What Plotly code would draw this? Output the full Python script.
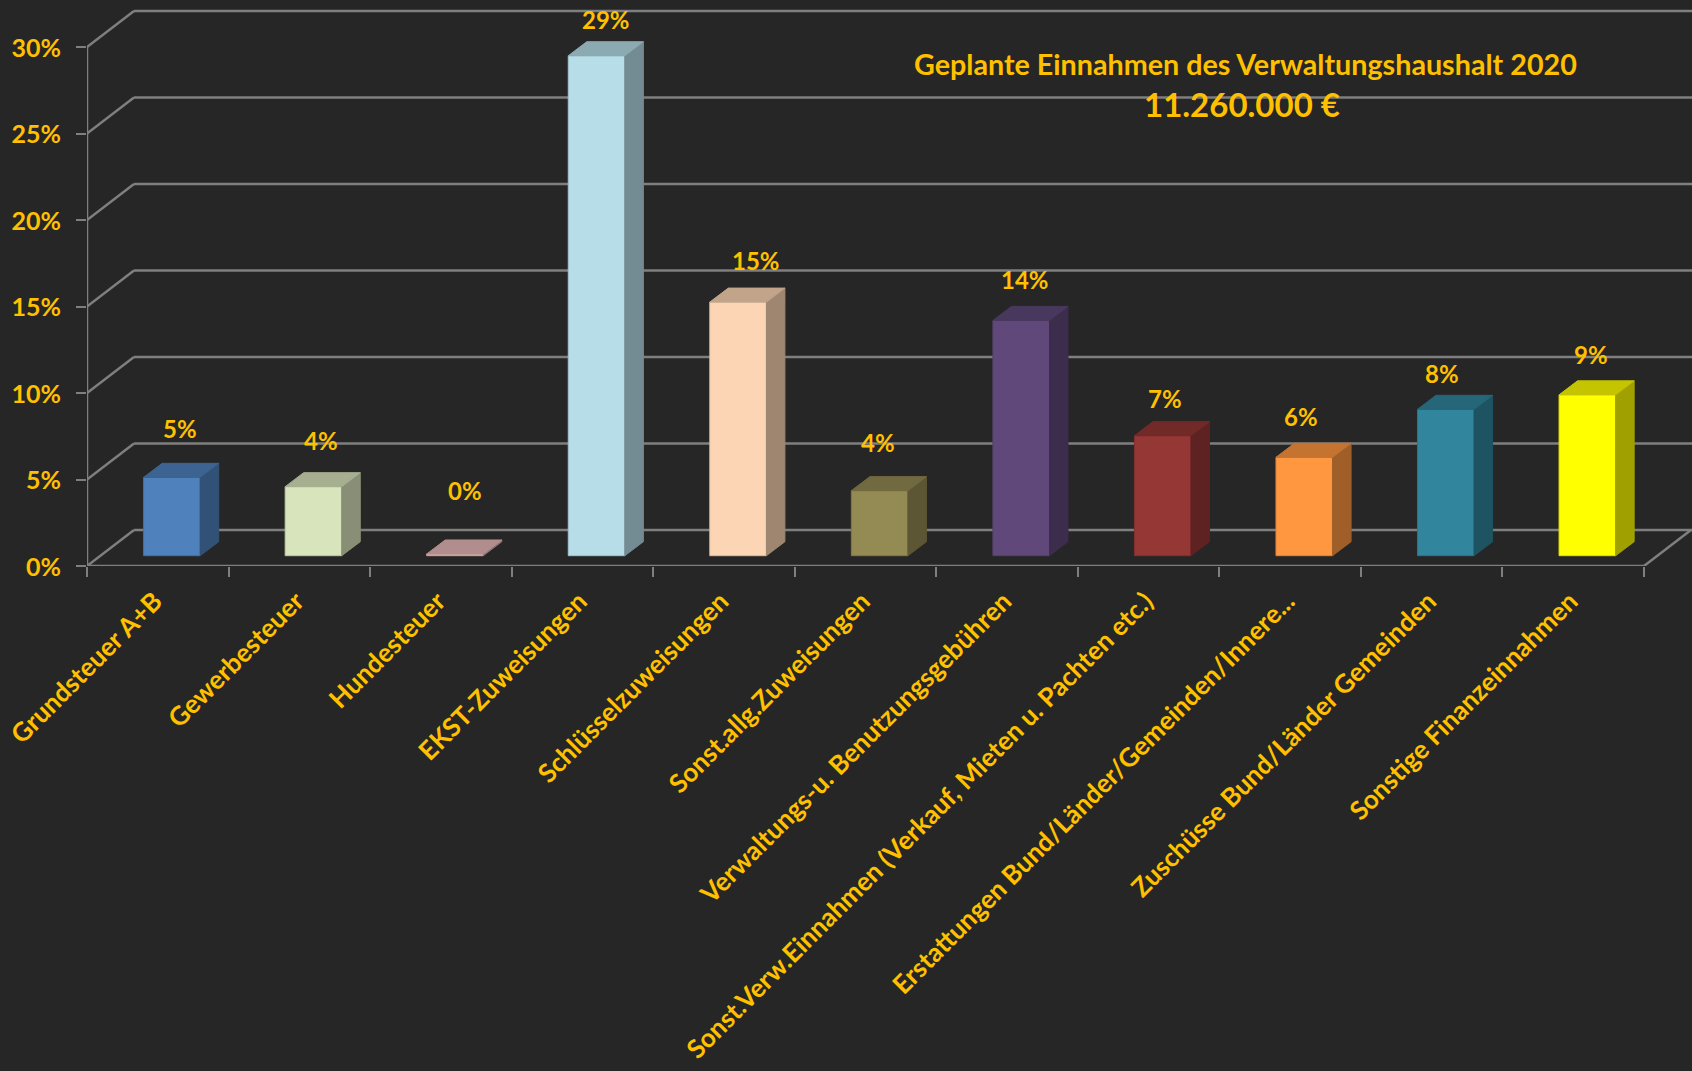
import plotly.graph_objects as go

categories = ["Grundsteuer A+B", "Gewerbesteuer", "Hundesteuer", "EKST-Zuweisungen",
              "Schlüsselzuweisungen", "Sonst.allg.Zuweisungen",
              "Verwaltungs-u. Benutzungsgebühren",
              "Sonst.Verw.Einnahmen (Verkauf, Mieten u. Pachten etc.)",
              "Erstattungen Bund/Länder/Gemeinden/Innere...",
              "Zuschüsse Bund/Länder Gemeinden", "Sonstige Finanzeinnahmen"]
values = [4.53, 3.99, 0.1, 28.9, 14.66, 3.76, 13.6, 6.94, 5.69, 8.46, 9.3]
value_labels = ["5%", "4%", "0%", "29%", "15%", "4%", "14%", "7%", "6%", "8%", "9%"]
y_ticks = [0, 5, 10, 15, 20, 25, 30]
y_tick_labels = ["0%", "5%", "10%", "15%", "20%", "25%", "30%"]
title_lines = ["Geplante Einnahmen des Verwaltungshaushalt 2020", "11.260.000 €"]

# styling
front_colors = ["#4F81BD", "#D8E4BC", "#E6B9B8", "#B7DEE8", "#FCD5B4", "#948A54",
                "#60497A", "#953735", "#FF9640", "#31859C", "#FFFF00"]
label_dx = [8, 8, 10, 9, 18, -2, 4, 2, -3, -4, 4]
label_dy = [49, 46, 63, 36, 42, 48, 41, 37, 41, 36, 40]
BG, GRID, GOLD = "#262626", "#7F7F7F", "#FFC000"
FONT = "Lato"
W, H = 1692, 1071
X0, CAT_W, Y0, PX_PER_PCT = 86.7, 141.57, 566.0, 17.3
WALL_DX, WALL_DY = 47 / CAT_W, 36 / PX_PER_PCT
SIDE_DX, SIDE_DY = 18.5 / CAT_W, 14 / PX_PER_PCT
BAR_W, BAR_SHIFT, BAR_BASE = 0.4, 0.1, 10.3 / PX_PER_PCT
XMAX, YMAX = (W - X0) / CAT_W, Y0 / PX_PER_PCT


def shade(hex_color, k):
    r, g, b = (int(hex_color[i:i + 2], 16) for i in (1, 3, 5))
    return f"rgb({int(r * k)},{int(g * k)},{int(b * k)})"


def paper_x(px):
    return (px - X0) / (W - X0)


def paper_y(py):
    return 1 - py / Y0


n = len(categories)
centers = [i + 0.5 for i in range(n)]
bar_x = [c + BAR_SHIFT for c in centers]

fig = go.Figure()
fig.add_bar(x=bar_x, y=values, base=BAR_BASE, width=BAR_W,
            marker=dict(color=front_colors,
                        line=dict(color=[shade(c, 0.88) for c in front_colors], width=1)),
            showlegend=False, hoverinfo="skip")

for x, v, c in zip(bar_x, values, front_colors):
    l, r = x - BAR_W / 2, x + BAR_W / 2
    b, t = BAR_BASE, BAR_BASE + v
    # right side face
    fig.add_scatter(x=[r, r + SIDE_DX, r + SIDE_DX, r, r],
                    y=[b, b + SIDE_DY, t + SIDE_DY, t, b],
                    mode="lines", fill="toself", fillcolor=shade(c, 0.63),
                    line=dict(color=shade(c, 0.63), width=1),
                    showlegend=False, hoverinfo="skip")
    # top face
    fig.add_scatter(x=[l, l + SIDE_DX, r + SIDE_DX, r, l],
                    y=[t, t + SIDE_DY, t + SIDE_DY, t, t],
                    mode="lines", fill="toself", fillcolor=shade(c, 0.77),
                    line=dict(color=shade(c, 0.77), width=1),
                    showlegend=False, hoverinfo="skip")

line_style = dict(color=GRID, width=2.5)
shapes = []
for v in y_ticks:
    shapes.append(dict(type="line", xref="x", yref="y", layer="below", line=line_style,
                       x0=0, y0=v, x1=WALL_DX, y1=v + WALL_DY))
    shapes.append(dict(type="line", xref="x", yref="y", layer="below", line=line_style,
                       x0=WALL_DX, y0=v + WALL_DY, x1=XMAX, y1=v + WALL_DY))
shapes.append(dict(type="line", xref="x", yref="y", layer="below", line=line_style,
                   x0=0, y0=0, x1=0, y1=y_ticks[-1]))
shapes.append(dict(type="line", xref="x", yref="y", layer="below", line=line_style,
                   x0=0, y0=0, x1=n, y1=0))
shapes.append(dict(type="line", xref="x", yref="y", layer="below", line=line_style,
                   x0=n, y0=0, x1=n + WALL_DX, y1=WALL_DY))

annotations = [dict(x=x, y=BAR_BASE + v, xref="x", yref="y", text=f"<b>{t}</b>", showarrow=False,
                    xanchor="center", yanchor="middle",
                    xshift=dx, yshift=dy, font=dict(family=FONT, size=24, color=GOLD))
               for x, v, t, dx, dy in zip(bar_x, values, value_labels, label_dx, label_dy)]
annotations.append(dict(x=paper_x(1245.5), y=paper_y(64), xref="paper", yref="paper", showarrow=False,
                        xanchor="center", yanchor="middle",
                        text=f"<b>{title_lines[0]}</b>",
                        font=dict(family=FONT, size=28.7, color=GOLD)))
annotations.append(dict(x=paper_x(1242), y=paper_y(104), xref="paper", yref="paper", showarrow=False,
                        xanchor="center", yanchor="middle",
                        text=f"<b>{title_lines[1]}</b>",
                        font=dict(family=FONT, size=33, color=GOLD)))

fig.update_layout(
    width=W, height=H, autosize=False,
    margin=dict(l=X0, r=0, t=0, b=H - Y0, pad=0),
    paper_bgcolor=BG, plot_bgcolor=BG, showlegend=False,
    shapes=shapes, annotations=annotations,
    xaxis=dict(range=[0, XMAX], showgrid=False, zeroline=False, showline=False,
               tickmode="array", tickvals=centers,
               ticktext=[f"<b>{c}</b>" for c in categories], tickangle=-45,
               ticks="", ticklabelstandoff=14, ticklabelshift=-3,
               tickfont=dict(family=FONT, size=26, color=GOLD),
               minor=dict(tickmode="array", tickvals=list(range(n + 1)), ticks="outside",
                          ticklen=10, tickwidth=2, tickcolor=GRID, showgrid=False)),
    yaxis=dict(range=[0, YMAX], showgrid=False, zeroline=False, showline=False,
               tickmode="array", tickvals=y_ticks,
               ticktext=[f"<b>{t}</b>" for t in y_tick_labels],
               ticks="outside", ticklen=10, tickwidth=2, tickcolor=GRID,
               ticklabelstandoff=10, ticklabelshift=1,
               tickfont=dict(family=FONT, size=25, color=GOLD)),
)

fig.write_html("out.html", config=dict(displayModeBar=False),
               post_script="document.body.style.margin='0';document.body.style.overflow='hidden';"
                           "document.body.style.background='" + BG + "';")
